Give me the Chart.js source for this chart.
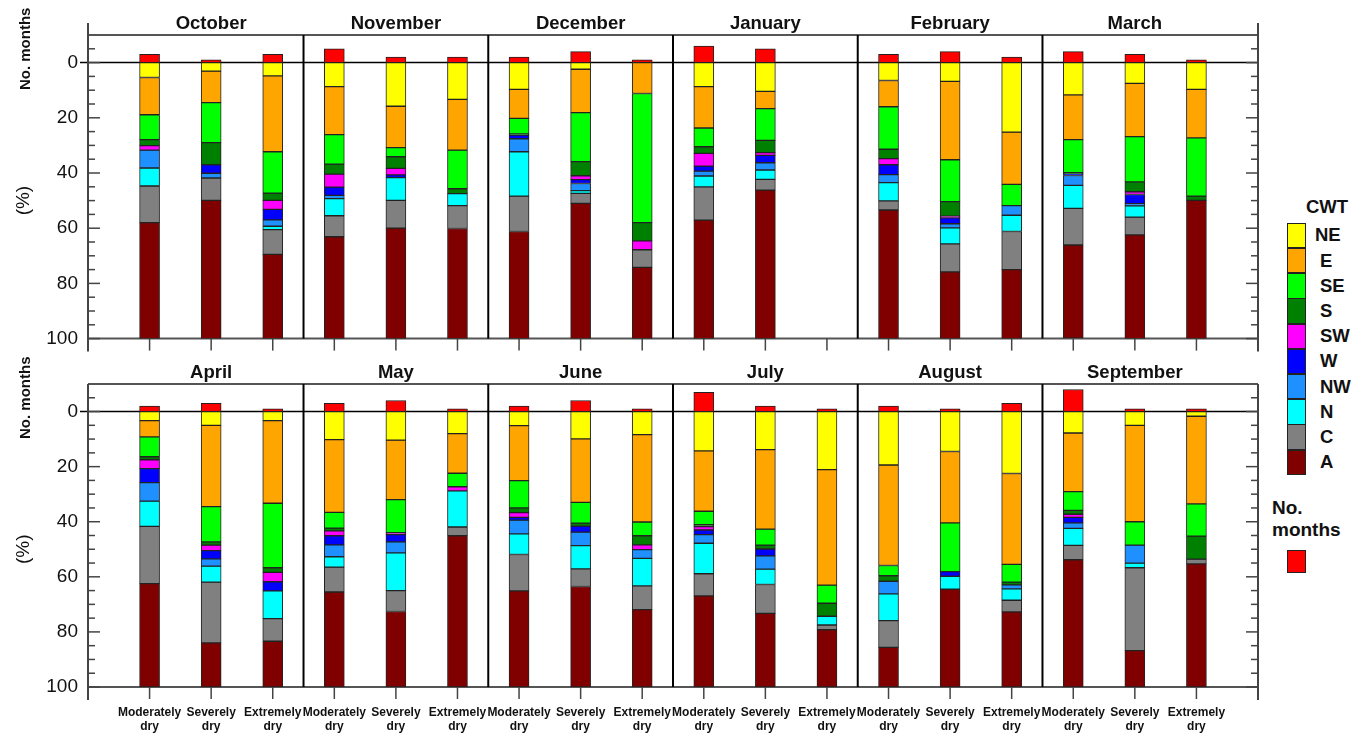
<!DOCTYPE html>
<html>
<head>
<meta charset="utf-8">
<title>CWT frequency by drought class</title>
<script src="https://cdn.jsdelivr.net/npm/chart.js@4.4.1/dist/chart.umd.min.js"></script>
<style>
  body { margin: 0; background: #fff; width: 1364px; height: 734px; overflow: hidden; position: relative;
         font-family: "Liberation Sans", Arial, sans-serif; }
  canvas { position: absolute; left: 0; }
  #row1 { top: 0; }
  #row2 { top: 350px; }
  .box { position: absolute; box-sizing: border-box; border: 1px solid #222; }
  .txt { position: absolute; font-weight: bold; font-size: 18.5px; color: #111; line-height: 20px; white-space: nowrap; }
</style>
</head>
<body>
<canvas id="row1" width="1270" height="360"></canvas>
<canvas id="row2" width="1270" height="384"></canvas>
<div id="legend"></div>
<script>
var months = ['October', 'November', 'December', 'January', 'February', 'March',
              'April', 'May', 'June', 'July', 'August', 'September'];
var dryClasses = [['Moderately', 'dry'], ['Severely', 'dry'], ['Extremely', 'dry']];
var cwtNames = ['NE', 'E', 'SE', 'S', 'SW', 'W', 'NW', 'N', 'C', 'A'];
var cwtColors = ['#ffff00', '#ffa500', '#00ff00', '#008000', '#ff00ff',
                 '#0000ff', '#1e90ff', '#00ffff', '#808080', '#800000'];
var yTicks = [0, 20, 40, 60, 80, 100];

// % of each CWT, order: Oct (moderately, severely, extremely), Nov ..., Sep
var pctNE = [5.4, 3.1, 4.8, 8.7, 15.8, 13.3, 9.7, 2.4, 0, 8.7, 10.4, 0, 6.5, 6.8, 25.2, 11.7, 7.5, 9.7,
             3.3, 5.0, 3.3, 10.2, 10.4, 8.0, 5.1, 9.9, 8.4, 14.3, 13.8, 21.1, 19.4, 14.5, 22.5, 7.8, 5.0, 1.7];
var pctE  = [13.5, 11.4, 27.5, 17.4, 15.0, 18.4, 10.5, 15.7, 11.2, 15.0, 6.3, 0, 9.5, 28.4, 18.9, 16.2, 19.3, 17.6,
             5.9, 29.5, 30.0, 26.4, 21.6, 14.4, 20.0, 23.1, 31.7, 21.9, 28.9, 41.9, 36.5, 25.9, 33.0, 21.3, 35.0, 31.8];
var pctSE = [9.0, 14.5, 15.0, 10.7, 3.3, 14.0, 5.6, 17.8, 46.8, 6.8, 11.5, 0, 15.4, 15.2, 7.7, 12.0, 16.4, 21.1,
             7.2, 12.8, 23.4, 5.7, 12.0, 4.9, 9.9, 7.5, 5.0, 4.9, 5.8, 6.6, 3.7, 17.7, 6.4, 6.8, 8.5, 11.7];
var pctS  = [2.2, 8.0, 2.6, 3.6, 4.2, 1.8, 0.5, 5.1, 6.6, 2.4, 4.4, 0, 3.4, 5.2, 0, 0.4, 3.6, 1.5,
             1.1, 1.2, 1.7, 1.0, 0, 0, 1.7, 1.1, 3.3, 0.7, 1.4, 4.7, 2.0, 0, 1.0, 1.4, 0, 8.4];
var pctSW = [1.6, 0, 3.3, 4.7, 2.4, 0, 0, 1.4, 3.2, 4.6, 1.0, 0, 2.2, 0.6, 0, 0, 1.0, 0,
             3.2, 2.0, 3.4, 1.8, 0.7, 1.5, 1.7, 0, 1.7, 1.2, 0, 0, 0, 0, 0, 1.1, 0, 0];
var pctW  = [0, 3.1, 3.8, 3.0, 1.0, 0, 1.3, 1.4, 0, 1.8, 2.7, 0, 3.6, 2.2, 0, 0.6, 3.3, 0,
             5.1, 3.0, 3.3, 3.3, 2.6, 0, 1.0, 2.2, 0, 1.7, 2.5, 0, 0, 1.7, 0, 2.0, 0, 0];
var pctNW = [6.5, 1.7, 2.3, 1.2, 0, 0, 4.7, 2.6, 0, 1.8, 2.6, 0, 2.9, 1.5, 3.5, 3.6, 0.8, 0,
             6.7, 2.6, 0, 4.3, 4.0, 0, 5.0, 4.9, 3.2, 3.1, 4.8, 0, 4.6, 0, 1.5, 2.0, 6.5, 0];
var pctN  = [6.5, 0, 1.2, 6.2, 8.2, 4.3, 16.1, 1.0, 0, 3.9, 3.4, 0, 6.6, 5.8, 5.9, 8.3, 4.1, 0,
             9.2, 5.8, 10.1, 3.8, 13.7, 13.1, 7.5, 8.4, 10.0, 11.1, 5.6, 3.2, 9.7, 4.7, 4.1, 6.2, 1.7, 0];
var pctC  = [13.3, 8.1, 9.0, 7.6, 10.1, 8.3, 12.8, 3.6, 6.4, 12.1, 3.9, 0, 3.3, 10.1, 13.8, 13.3, 6.4, 0,
             20.8, 22.1, 8.2, 9.0, 7.6, 3.2, 13.2, 6.4, 8.6, 8.0, 10.5, 1.7, 9.7, 0, 4.2, 5.2, 30.1, 1.7];
var pctA  = [42.0, 50.1, 30.5, 36.9, 40.0, 39.9, 38.8, 49.0, 25.8, 42.9, 53.8, 0, 46.6, 24.2, 25.0, 33.7, 37.6, 50.1,
             37.5, 16.0, 16.6, 34.5, 27.4, 54.9, 34.9, 36.5, 28.1, 33.1, 26.7, 20.8, 14.4, 35.5, 27.3, 46.2, 13.2, 44.7];
var noMonths = [3, 1, 3, 5, 2, 2, 2, 4, 1, 6, 5, 0, 3, 4, 2, 4, 3, 1,
                2, 3, 1, 3, 4, 1, 2, 4, 1, 7, 2, 1, 2, 1, 3, 8, 1, 1];

var cwtSeries = [pctNE, pctE, pctSE, pctS, pctSW, pctW, pctNW, pctN, pctC, pctA];
var FONT = '"Liberation Sans", Arial, sans-serif';

function buildDatasets(row) {
    var sets = [];
    cwtSeries.forEach(function (serie, k) {
        var pts = [];
        for (var i = 0; i < 18; i++) {
            var v = serie[row * 18 + i];
            if (v > 0) pts.push({ x: i, y: v });
        }
        sets.push({ label: cwtNames[k], data: pts, backgroundColor: cwtColors[k] });
    });
    // number of months goes up from the 0 line
    var red = [];
    for (var i = 0; i < 18; i++) {
        var n = noMonths[row * 18 + i];
        if (n > 0) red.push({ x: i, y: -n });
    }
    sets.push({ label: 'No. months', data: red, backgroundColor: '#ff0000' });
    sets.forEach(function (s) {
        s.stack = 'cwt';
        s.borderColor = '#222';
        s.borderWidth = 1;
        s.borderSkipped = false;
        s.barThickness = 20;
    });
    return sets;
}

var framePlugin = {
    id: 'frame',
    beforeDatasetsDraw: function (chart, args, opts) {
        var ctx = chart.ctx, a = chart.chartArea;
        var xs = chart.scales.x, ys = chart.scales.y;
        var top = ys.getPixelForValue(-10), bottom = ys.getPixelForValue(100), zero = ys.getPixelForValue(0);
        function line(x1, y1, x2, y2, color, w) {
            ctx.beginPath();
            ctx.strokeStyle = color;
            ctx.lineWidth = w;
            ctx.moveTo(x1, y1);
            ctx.lineTo(x2, y2);
            ctx.stroke();
        }
        ctx.save();
        line(a.left, top, a.right, top, '#555', 2);
        line(a.left, bottom, a.right, bottom, '#555', 2);
        line(a.left - 8, zero, a.right, zero, '#000', 1.5);
        for (var m = 1; m < 6; m++) {
            var sx = xs.getPixelForValue(m * 3 - 0.5);
            line(sx, top, sx, bottom, '#000', 2);
        }
        var ext = opts.row === 0 ? 12 : 0;
        line(a.left, top - ext, a.left, bottom + 13, '#444', 2);
        line(a.right, top - ext, a.right, bottom + 13, '#444', 2);
        for (var v = -5; v <= 100; v += 5) {
            var ty = ys.getPixelForValue(v);
            var len = v % 20 === 0 ? 12 : 7;
            line(a.left, ty, a.left + len, ty, '#444', 1.5);
            line(a.right, ty, a.right - len, ty, '#444', 1.5);
        }
        for (var i = 0; i < 18; i++) {
            var tx = xs.getPixelForValue(i);
            line(tx, bottom, tx, bottom + 12, '#444', 1.5);
        }

        ctx.fillStyle = '#111';
        ctx.textAlign = 'center';
        ctx.textBaseline = 'middle';
        ctx.font = 'bold 18.5px ' + FONT;
        for (var k = 0; k < 6; k++) {
            ctx.fillText(months[opts.row * 6 + k], xs.getPixelForValue(k * 3 + 1), top - 11);
        }

        ctx.save();
        ctx.translate(26, ys.getPixelForValue(-5));
        ctx.rotate(-Math.PI / 2);
        ctx.font = 'bold 15px ' + FONT;
        ctx.fillText('No. months', 0, 0);
        ctx.restore();
        ctx.save();
        ctx.translate(24, ys.getPixelForValue(50));
        ctx.rotate(-Math.PI / 2);
        ctx.font = '19px ' + FONT;
        ctx.fillText('(%)', 0, 0);
        ctx.restore();
        ctx.restore();
    }
};

function drawRow(canvasId, row, padTop, axisHeight) {
    new Chart(document.getElementById(canvasId), {
        type: 'bar',
        data: { datasets: buildDatasets(row) },
        options: {
            responsive: false,
            animation: false,
            layout: { padding: { top: padTop, right: 12, left: 0, bottom: 0 } },
            plugins: {
                legend: { display: false },
                tooltip: { enabled: false },
                frame: { row: row }
            },
            scales: {
                x: {
                    type: 'linear',
                    min: -1,
                    max: 18,
                    offset: false,
                    stacked: true,
                    grid: { display: false, drawTicks: false },
                    border: { display: false },
                    afterBuildTicks: function (scale) {
                        var t = [];
                        for (var i = 0; i < 18; i++) t.push({ value: i });
                        scale.ticks = t;
                    },
                    afterFit: function (scale) { scale.height = axisHeight; },
                    ticks: {
                        display: row === 1,
                        autoSkip: false,
                        maxRotation: 0,
                        padding: 18,
                        color: '#111',
                        font: { family: FONT, size: 12, weight: 'bold', lineHeight: 1.2 },
                        callback: function (value) { return dryClasses[value % 3]; }
                    }
                },
                y: {
                    reverse: true,
                    min: -10,
                    max: 100,
                    stacked: true,
                    grid: { display: false, drawTicks: false },
                    border: { display: false },
                    afterBuildTicks: function (scale) {
                        scale.ticks = yTicks.map(function (v) { return { value: v }; });
                    },
                    afterFit: function (scale) { scale.width = 88; },
                    ticks: {
                        padding: 10,
                        color: '#111',
                        font: { family: FONT, size: 19 }
                    }
                }
            }
        },
        plugins: [framePlugin]
    });
}

drawRow('row1', 0, 35, 20);
drawRow('row2', 1, 34, 47);

// legend on the right, built from the same names and colours
function buildLegend() {
    var box = document.getElementById('legend');
    var html = '<div class="txt" style="left:1306px;top:197px;">CWT</div>';
    cwtNames.forEach(function (name, k) {
        var y = 222.7 + k * 25.2;
        html += '<div class="box" style="left:1287px;top:' + y + 'px;width:18.5px;height:25.6px;background:' + cwtColors[k] + ';"></div>';
        var lx = name === 'NE' ? 1315 : 1320;
        html += '<div class="txt" style="left:' + lx + 'px;top:' + (y + 2.6) + 'px;">' + name + '</div>';
    });
    html += '<div class="txt" style="left:1272px;top:498px;font-size:19px;">No.</div>';
    html += '<div class="txt" style="left:1272px;top:520px;font-size:19px;">months</div>';
    html += '<div class="box" style="left:1287px;top:550px;width:18.5px;height:23px;background:#ff0000;"></div>';
    box.innerHTML = html;
}
buildLegend();
</script>
</body>
</html>
